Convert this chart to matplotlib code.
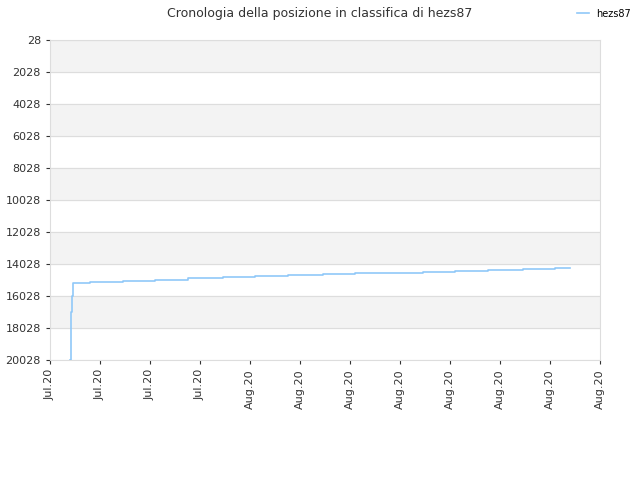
import matplotlib
matplotlib.use("Agg")
import matplotlib.pyplot as plt

# rank history
x_vals = [0.40, 0.41, 0.43, 0.45, 0.8, 1.45, 2.1, 2.75, 3.45, 4.1, 4.75,
          5.45, 6.1, 6.75, 7.45, 8.1, 8.75, 9.45, 10.1, 10.4]
ranks = [20028, 17000, 16000, 15200, 15150, 15080, 15000, 14930, 14860, 14800,
         14740, 14680, 14620, 14560, 14500, 14440, 14380, 14320, 14250, 14250]
y_ticks = list(range(28, 20029, 2000))
x_labels = ["Jul.20"] * 4 + ["Aug.20"] * 8

fig = plt.figure(figsize=(6.4, 4.8), dpi=100)
ax = fig.add_axes([50 / 640, 120 / 480, 550 / 640, 320 / 480])

for i in range(0, len(y_ticks) - 1, 2):
    ax.axhspan(y_ticks[i], y_ticks[i + 1], color="#f3f3f3", zorder=0)
for t in y_ticks:
    ax.axhline(t, color="#dddddd", lw=0.8, zorder=1)

ax.step(x_vals, ranks, where="post", color="#90c8f8", lw=1.2, label="hezs87", zorder=3)

ax.set_xlim(0, 11)
ax.set_ylim(20028, 28)
ax.set_yticks(y_ticks)
ax.set_xticks(range(len(x_labels)))
ax.set_xticklabels(x_labels, rotation=90)
ax.tick_params(labelsize=8, colors="#333333", length=3)
for s in ax.spines.values():
    s.set_color("#dddddd")

fig.suptitle("Cronologia della posizione in classifica di hezs87", y=0.985,
             fontsize=9, color="#333333")
fig.legend(loc="upper right", bbox_to_anchor=(1.0, 1.0), frameon=False,
           fontsize=7, handlelength=1.2)

fig.savefig("out.png")
